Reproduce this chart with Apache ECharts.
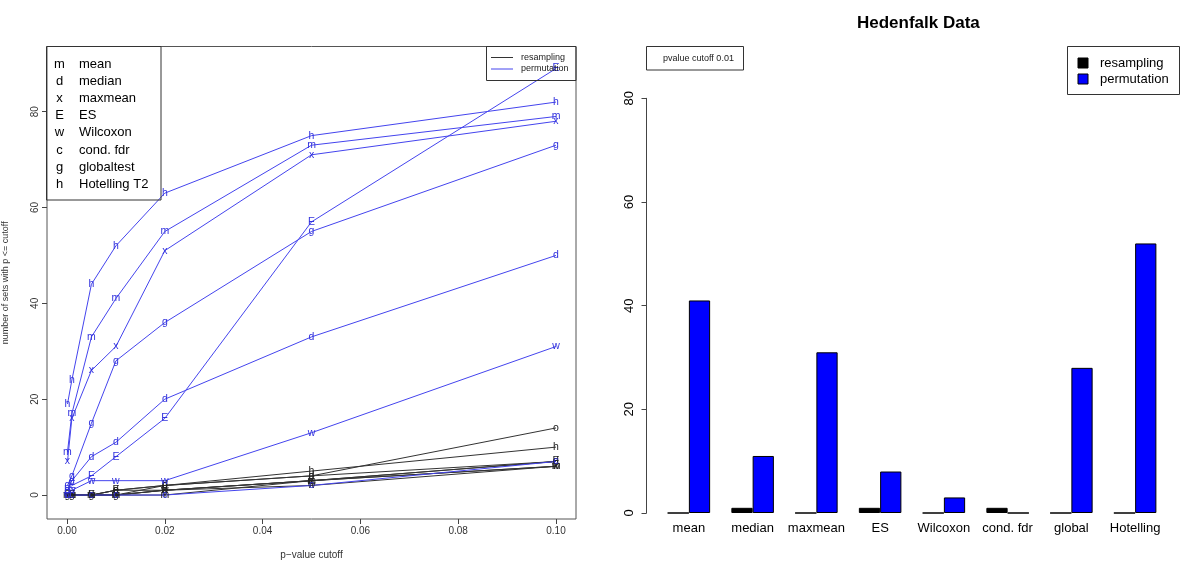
<!DOCTYPE html>
<html>
<head>
<meta charset="utf-8">
<title>Hedenfalk Data</title>
<script src="https://cdn.jsdelivr.net/npm/echarts@6/dist/echarts.min.js"></script>
</head>
<body style="margin:0">
<div id="main" style="width:1200px;height:571px;background:#fff"></div>
<script>
// left panel: number of significant sets vs p-value cutoff
var cutoffs = [0.0001, 0.001, 0.005, 0.01, 0.02, 0.05, 0.1];
var xTicks = [0, 0.02, 0.04, 0.06, 0.08, 0.1];
var yTicks = [0, 20, 40, 60, 80];

var methodNames = ['mean', 'median', 'maxmean', 'ES', 'Wilcoxon', 'cond. fdr', 'globaltest', 'Hotelling T2'];
var legendLetters = ['m', 'd', 'x', 'E', 'w', 'c', 'g', 'h'];
var permLetters = ['m', 'd', 'x', 'E', 'w', 'c', 'g', 'h'];
var resampLetters = ['m', 'd', 'x', 'E', 'w', 'o', 'g', 'h'];

// permutation (blue)
var permMean     = [9, 17, 33, 41, 55, 73, 79];
var permMedian   = [1, 3, 8, 11, 20, 33, 50];
var permMaxmean  = [7, 16, 26, 31, 51, 71, 78];
var permES       = [1, 2, 4, 8, 16, 57, 89];
var permWilcoxon = [0, 1, 3, 3, 3, 13, 31];
var permCondFdr  = [0, 0, 0, 0, 0, 2, 7];
var permGlobal   = [2, 4, 15, 28, 36, 55, 73];
var permHotel    = [19, 24, 44, 52, 63, 75, 82];

// resampling (black)
var resMean     = [0, 0, 0, 0, 0, 3, 6];
var resMedian   = [0, 0, 0, 1, 2, 4, 7];
var resMaxmean  = [0, 0, 0, 0, 1, 3, 6];
var resES       = [0, 0, 0, 1, 1, 3, 7];
var resWilcoxon = [0, 0, 0, 0, 1, 2, 6];
var resCondFdr  = [0, 0, 0, 1, 2, 4, 14];
var resGlobal   = [0, 0, 0, 0, 1, 3, 7];
var resHotel    = [0, 0, 0, 0, 2, 5, 10];

// right panel: counts at cutoff 0.01
var barCats = ['mean', 'median', 'maxmean', 'ES', 'Wilcoxon', 'cond. fdr', 'global', 'Hotelling'];
var barResampling  = [0, 1, 0, 1, 0, 1, 0, 0];
var barPermutation = [41, 11, 31, 8, 3, 0, 28, 52];

var permAll = [permMean, permMedian, permMaxmean, permES, permWilcoxon, permCondFdr, permGlobal, permHotel];
var resAll = [resMean, resMedian, resMaxmean, resES, resWilcoxon, resCondFdr, resGlobal, resHotel];

var BLUE_LINE = '#4444ee';
var BLUE_TXT = '#3333dd';
var BLACK_LINE = '#333333';

function lineSeries(name, vals, letter, lineColor, txtColor) {
  return {
    type: 'line', name: name, xAxisIndex: 0, yAxisIndex: 0,
    data: cutoffs.map(function (c, i) { return [c, vals[i]]; }),
    symbol: 'circle', symbolSize: 0.1, showSymbol: true,
    lineStyle: { color: lineColor, width: 1 },
    itemStyle: { color: lineColor },
    label: { show: true, position: 'inside', formatter: letter, color: txtColor, fontSize: 10.5 },
    emphasis: { disabled: true }, silent: true
  };
}

var series = [];
resAll.forEach(function (v, i) { series.push(lineSeries('resampling', v, resampLetters[i], BLACK_LINE, '#222')); });
permAll.forEach(function (v, i) { series.push(lineSeries('permutation', v, permLetters[i], BLUE_LINE, BLUE_TXT)); });

var barBase = { type: 'bar', xAxisIndex: 1, yAxisIndex: 1, barGap: '0%', barCategoryGap: '33.3%', silent: true };
series.push(Object.assign({}, barBase, { name: 'resampling', data: barResampling,
  itemStyle: { color: '#000', borderColor: '#000', borderWidth: 1 } }));
series.push(Object.assign({}, barBase, { name: 'permutation', data: barPermutation,
  itemStyle: { color: '#0000ff', borderColor: '#000', borderWidth: 1 } }));

// legend boxes drawn as graphics (R style)
var graphic = [];
graphic.push({ type: 'rect', shape: { x: 46.5, y: 46.5, width: 114.5, height: 153.5 },
  style: { fill: 'none', stroke: '#333', lineWidth: 1 }, z: 100 });
legendLetters.forEach(function (l, i) {
  var y = 64 + i * 17.2;
  graphic.push({ type: 'text', x: 59.5, y: y, z: 101,
    style: { text: l, fontSize: 13, fill: '#000', align: 'center', verticalAlign: 'middle' } });
  graphic.push({ type: 'text', x: 79, y: y, z: 101,
    style: { text: methodNames[i], fontSize: 13, fill: '#000', align: 'left', verticalAlign: 'middle' } });
});
graphic.push({ type: 'rect', shape: { x: 486.5, y: 46.5, width: 89.5, height: 34 },
  style: { fill: 'none', stroke: '#333', lineWidth: 1 }, z: 100 });
[['resampling', BLACK_LINE], ['permutation', BLUE_LINE]].forEach(function (it, i) {
  var y = 57.5 + i * 11.5;
  graphic.push({ type: 'line', shape: { x1: 491, y1: y, x2: 513, y2: y }, z: 101,
    style: { stroke: it[1], lineWidth: 1 } });
  graphic.push({ type: 'text', x: 521, y: y, z: 101,
    style: { text: it[0], fontSize: 9, fill: '#222', align: 'left', verticalAlign: 'middle' } });
});
graphic.push({ type: 'rect', shape: { x: 646.5, y: 46.5, width: 97, height: 23.5 },
  style: { fill: 'none', stroke: '#333', lineWidth: 1 }, z: 100 });
graphic.push({ type: 'text', x: 663, y: 58.5, z: 101,
  style: { text: 'pvalue cutoff 0.01', fontSize: 9, fill: '#222', align: 'left', verticalAlign: 'middle' } });
graphic.push({ type: 'rect', shape: { x: 1067.5, y: 46.5, width: 112, height: 48 },
  style: { fill: 'none', stroke: '#333', lineWidth: 1 }, z: 100 });
[['resampling', '#000'], ['permutation', '#0000ff']].forEach(function (it, i) {
  var y = 63 + i * 16;
  graphic.push({ type: 'rect', shape: { x: 1078, y: y - 5, width: 10, height: 10 }, z: 101,
    style: { fill: it[1], stroke: '#000', lineWidth: 1 } });
  graphic.push({ type: 'text', x: 1100, y: y, z: 101,
    style: { text: it[0], fontSize: 13, fill: '#000', align: 'left', verticalAlign: 'middle' } });
});

var myChart = echarts.init(document.getElementById('main'), null, { renderer: 'canvas' });
var option = {
  animation: false,
  backgroundColor: '#fff',
  textStyle: { fontFamily: 'Liberation Sans, Arial, sans-serif' },
  title: {
    text: 'Hedenfalk Data', left: 852, top: 10,
    textStyle: { fontSize: 17, fontWeight: 'bold', color: '#000' }
  },
  grid: [
    { left: 46.5, right: 624, top: 46.5, bottom: 52, show: true, borderColor: '#555', borderWidth: 1, backgroundColor: 'transparent' },
    { left: 657, right: 33, top: 98.3, bottom: 58 }
  ],
  xAxis: [
    {
      type: 'value', gridIndex: 0, min: -0.00409, max: 0.10409,
      axisLine: { show: false, onZero: false }, splitLine: { show: false },
      axisTick: { show: true, length: 5, customValues: xTicks, lineStyle: { color: '#444' } },
      axisLabel: { customValues: xTicks, fontSize: 10, color: '#333', margin: 7,
        formatter: function (v) { return v.toFixed(2); } },
      name: 'p\u2212value cutoff', nameLocation: 'middle', nameGap: 31,
      nameTextStyle: { fontSize: 10, color: '#333' }
    },
    {
      type: 'category', gridIndex: 1, data: barCats,
      axisLine: { show: false, onZero: false }, axisTick: { show: false }, splitLine: { show: false },
      axisLabel: { fontSize: 13, color: '#000', margin: 9, interval: 0 }
    }
  ],
  yAxis: [
    {
      type: 'value', gridIndex: 0, min: -5, max: 93.6,
      axisLine: { show: false, onZero: false }, splitLine: { show: false },
      axisTick: { show: true, length: 5, customValues: yTicks, lineStyle: { color: '#444' } },
      axisLabel: { customValues: yTicks, rotate: 90, fontSize: 10, color: '#333', margin: 7 },
      name: 'number of sets with p <= cutoff', nameLocation: 'middle', nameGap: 37, nameRotate: 90,
      nameTextStyle: { fontSize: 9, color: '#333' }
    },
    {
      type: 'value', gridIndex: 1, min: 0, max: 80, interval: 20, offset: 10.5,
      axisLine: { show: true, onZero: false, lineStyle: { color: '#444' } }, splitLine: { show: false },
      axisTick: { show: true, length: 5, lineStyle: { color: '#444' } },
      axisLabel: { rotate: 90, fontSize: 13, color: '#000', margin: 11 }
    }
  ],
  graphic: graphic,
  series: series
};
myChart.setOption(option);
</script>
</body>
</html>
